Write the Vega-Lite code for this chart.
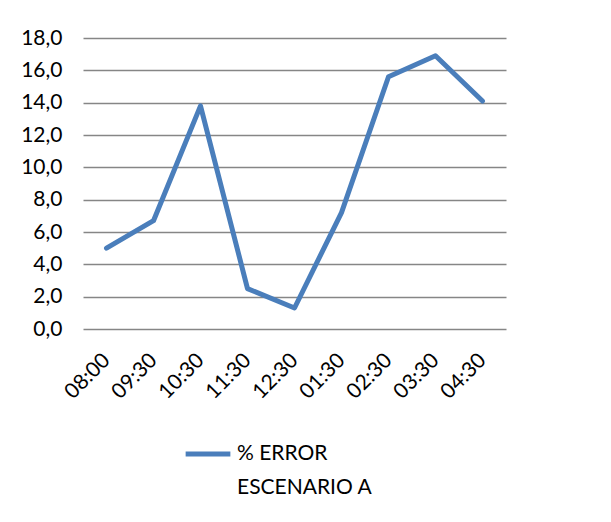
{
  "$schema": "https://vega.github.io/schema/vega-lite/v6.json",
  "width": 423,
  "height": 291,
  "autosize": {"type": "none"},
  "padding": {"left": 83, "top": 38, "right": 105, "bottom": 193},
  "background": "white",
  "data": {
    "values": [
      {"hora": "08:00", "error": 5.0, "serie": "% ERROR ESCENARIO A"},
      {"hora": "09:30", "error": 6.7, "serie": "% ERROR ESCENARIO A"},
      {"hora": "10:30", "error": 13.8, "serie": "% ERROR ESCENARIO A"},
      {"hora": "11:30", "error": 2.5, "serie": "% ERROR ESCENARIO A"},
      {"hora": "12:30", "error": 1.3, "serie": "% ERROR ESCENARIO A"},
      {"hora": "01:30", "error": 7.2, "serie": "% ERROR ESCENARIO A"},
      {"hora": "02:30", "error": 15.6, "serie": "% ERROR ESCENARIO A"},
      {"hora": "03:30", "error": 16.9, "serie": "% ERROR ESCENARIO A"},
      {"hora": "04:30", "error": 14.1, "serie": "% ERROR ESCENARIO A"}
    ]
  },
  "mark": {"type": "line", "strokeWidth": 5, "strokeJoin": "round", "strokeCap": "round"},
  "encoding": {
    "x": {
      "field": "hora",
      "type": "ordinal",
      "sort": null,
      "scale": {"paddingInner": 0, "paddingOuter": 0.5},
      "axis": {
        "title": null,
        "labelAngle": -45,
        "labelAlign": "right",
        "labelBaseline": "middle",
        "labelPadding": 28,
        "ticks": false,
        "domain": false,
        "grid": false,
        "labelFont": "Lato",
        "labelFontSize": 21,
        "labelColor": "#000000"
      }
    },
    "y": {
      "field": "error",
      "type": "quantitative",
      "scale": {"domain": [0, 18], "nice": false},
      "axis": {
        "title": null,
        "values": [0, 2, 4, 6, 8, 10, 12, 14, 16, 18],
        "labelExpr": "replace(format(datum.value, '.1f'), '.', ',')",
        "ticks": false,
        "domain": false,
        "grid": true,
        "gridColor": "#868686",
        "gridWidth": 1.5,
        "labelPadding": 21,
        "labelFont": "Lato",
        "labelFontSize": 21,
        "labelColor": "#000000"
      }
    },
    "color": {
      "field": "serie",
      "type": "nominal",
      "scale": {"range": ["#4a7ebb"]},
      "legend": {
        "title": null,
        "orient": "none",
        "legendX": 100,
        "legendY": 391,
        "symbolType": "stroke",
        "symbolSize": 2000,
        "symbolStrokeWidth": 5,
        "labelExpr": "['% ERROR', 'ESCENARIO A']",
        "labelFont": "Lato",
        "labelFontSize": 21,
        "labelColor": "#000000",
        "labelLimit": 300,
        "labelOffset": 4,
        "labelBaseline": "top",
        "encode": {"labels": {"update": {"lineHeight": {"value": 34}, "dy": {"value": -11}}}}
      }
    }
  },
  "config": {"view": {"stroke": null}}
}
